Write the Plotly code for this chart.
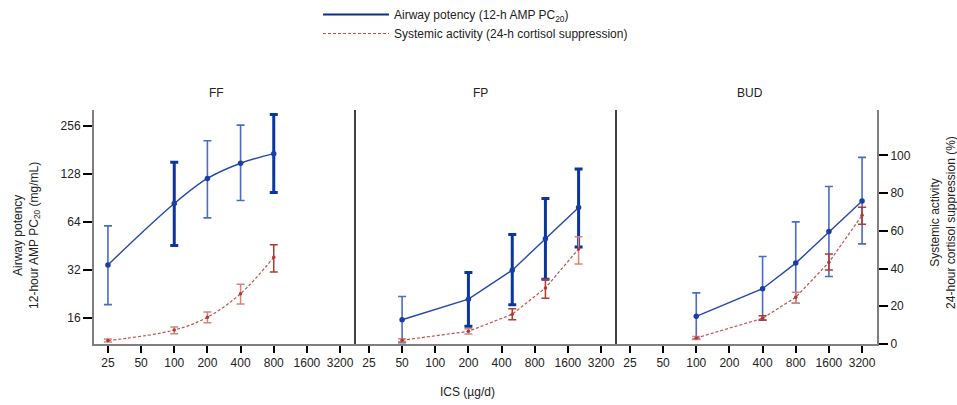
import plotly.graph_objects as go
import numpy as np

# ---------------- data ----------------
dose_ticks = [25, 50, 100, 200, 400, 800, 1600, 3200]
panels = ["FF", "FP", "BUD"]

ff_dose = [25, 100, 200, 400, 800]
ff_pc20 = [34.4, 83.3, 119.6, 149, 171]
ff_pc20_hi = [60.4, 151, 206, 258, 301]
ff_pc20_lo = [19.4, 45.5, 67.8, 87, 97.7]
ff_cort = [1.8, 7.4, 14.2, 26.7, 46.0]
ff_cort_hi = [2.6, 9.0, 17.0, 31.7, 52.7]
ff_cort_lo = [1.0, 5.5, 11.3, 21.2, 38.2]

fp_dose = [50, 200, 500, 1000, 2000]
fp_pc20 = [15.6, 21.0, 31.9, 50.1, 78.7]
fp_pc20_hi = [21.8, 30.8, 53.3, 89.6, 137]
fp_pc20_lo = [11.2, 14.2, 19.4, 28.0, 44.6]
fp_cort = [2.0, 6.7, 15.8, 29.7, 50.4]
fp_cort_hi = [2.8, 8.1, 18.7, 34.3, 56.9]
fp_cort_lo = [1.2, 5.3, 12.9, 24.2, 42.4]

bud_dose = [100, 400, 800, 1600, 3200]
bud_pc20 = [16.4, 24.4, 35.3, 55.6, 86.3]
bud_pc20_hi = [23.0, 38.8, 64.0, 106.6, 162]
bud_pc20_lo = [11.8, 15.5, 19.8, 29.1, 46.6]
bud_cort = [3.2, 13.6, 24.8, 43.3, 68.3]
bud_cort_hi = [4.0, 15.0, 27.4, 47.7, 72.5]
bud_cort_lo = [2.4, 12.7, 21.6, 39.3, 63.5]

# ---------------- style ----------------
FONT = "Liberation Sans, Arial, sans-serif"
TXT = "#222222"
BLUE_LINE = "#2447b0"
BLUE_MK = "#1a3da6"
BLUE_THICK = "#0b35a0"
BLUE_THIN = "#4a6cc6"
BLUE_LEG = "#0a2d8f"
RED_LINE = "#c0504d"
RED_DARK = "#b23a2f"
RED_LIGHT = "#d3857b"
AX_GRAY = "#7f7f7f"

# which doses get the heavy blue error bars / dark red bars (appearance only)
thick_blue = {"FF": [100, 800], "FP": [200, 500, 1000, 2000], "BUD": []}
dark_red = {"FF": [800], "FP": [500, 1000], "BUD": [400, 1600, 3200]}

series = {
    "FF": (ff_dose, ff_pc20, ff_pc20_lo, ff_pc20_hi, ff_cort, ff_cort_lo, ff_cort_hi),
    "FP": (fp_dose, fp_pc20, fp_pc20_lo, fp_pc20_hi, fp_cort, fp_cort_lo, fp_cort_hi),
    "BUD": (bud_dose, bud_pc20, bud_pc20_lo, bud_pc20_hi, bud_cort, bud_cort_lo, bud_cort_hi),
}

fig = go.Figure()


def err_trace(x, y, lo, hi, xa, ya, color, thickness, width):
    x = np.asarray(x, float)
    y = np.asarray(y, float)
    lo = np.asarray(lo, float)
    hi = np.asarray(hi, float)
    return go.Scatter(
        x=x, y=y, xaxis=xa, yaxis=ya, mode="markers",
        marker=dict(size=1, color="rgba(0,0,0,0)"),
        error_y=dict(type="data", symmetric=False, array=hi - y, arrayminus=y - lo,
                     color=color, thickness=thickness, width=width),
        showlegend=False, hoverinfo="skip",
    )


for i, p in enumerate(panels):
    xa = "x" if i == 0 else f"x{i+1}"
    d, pc, pclo, pchi, co, colo, cohi = series[p]
    shape = "spline" if p == "FF" else "linear"

    sel_thick = [k for k, v in enumerate(d) if v in thick_blue[p]]
    sel_thin = [k for k, v in enumerate(d) if v not in thick_blue[p]]
    for sel, col, th in ((sel_thin, BLUE_THIN, 1.6), (sel_thick, BLUE_THICK, 3)):
        if sel:
            fig.add_trace(err_trace([d[k] for k in sel], [pc[k] for k in sel],
                                    [pclo[k] for k in sel], [pchi[k] for k in sel],
                                    xa, "y", col, th, 4))
    sel_dark = [k for k, v in enumerate(d) if v in dark_red[p]]
    sel_light = [k for k, v in enumerate(d) if v not in dark_red[p]]
    for sel, col in ((sel_light, RED_LIGHT), (sel_dark, RED_DARK)):
        if sel:
            fig.add_trace(err_trace([d[k] for k in sel], [co[k] for k in sel],
                                    [colo[k] for k in sel], [cohi[k] for k in sel],
                                    xa, "y2", col, 1.5, 4))

    fig.add_trace(go.Scatter(
        x=d, y=pc, xaxis=xa, yaxis="y", mode="lines+markers",
        line=dict(color=BLUE_LINE, width=1.4, shape=shape),
        marker=dict(color=BLUE_MK, size=5.5),
        showlegend=False,
    ))
    fig.add_trace(go.Scatter(
        x=d, y=co, xaxis=xa, yaxis="y2", mode="lines+markers",
        line=dict(color=RED_LINE, width=1.2, dash="3px,2px", shape=shape),
        marker=dict(color=RED_DARK, size=3.5),
        showlegend=False,
    ))

# legend-only entries (line style only, as in the reference key)
fig.add_trace(go.Scatter(x=[None], y=[None], mode="lines",
                         line=dict(color=BLUE_LEG, width=2.2),
                         name="Airway potency (12-h AMP PC<sub>20</sub>)"))
fig.add_trace(go.Scatter(x=[None], y=[None], mode="lines",
                         line=dict(color=RED_LINE, width=1, dash="3px,2px"),
                         name="Systemic activity (24-h cortisol suppression)"))

xrange = [np.log10(25) - 0.42 * np.log10(2), np.log10(3200) + 0.45 * np.log10(2)]
xcommon = dict(
    type="log", range=xrange, tickvals=dose_ticks, ticktext=[str(v) for v in dose_ticks],
    ticks="outside", ticklen=7, tickwidth=2, tickcolor="black",
    showline=True, linecolor=AX_GRAY, linewidth=1.5,
    showgrid=False, zeroline=False, anchor="y", automargin=False,
    tickfont=dict(family=FONT, size=12, color=TXT),
)

layout = dict(
    width=957, height=405,
    margin=dict(l=94, r=80, t=110, b=61, autoexpand=False),
    paper_bgcolor="white", plot_bgcolor="rgba(0,0,0,0)",
    font=dict(family=FONT, size=12, color=TXT),
    xaxis=dict(domain=[0, 1 / 3], **xcommon),
    xaxis2=dict(domain=[1 / 3, 2 / 3], **xcommon),
    xaxis3=dict(domain=[2 / 3, 1], **xcommon),
    yaxis=dict(
        type="log", range=[np.log10(11.0), np.log10(320.9)],
        tickvals=[16, 32, 64, 128, 256], ticktext=["16", "32", "64", "128", "256"],
        ticks="outside", ticklen=9, tickwidth=2, tickcolor="black",
        showline=True, linecolor=AX_GRAY, linewidth=2,
        showgrid=False, zeroline=False, anchor="x", automargin=False,
        tickfont=dict(family=FONT, size=12, color=TXT),
    ),
    yaxis2=dict(
        overlaying="y", side="right", anchor="x3", range=[0, 124.1],
        tickvals=[0, 20, 40, 60, 80, 100],
        ticks="outside", ticklen=9, tickwidth=2, tickcolor="black",
        showline=True, linecolor=AX_GRAY, linewidth=2,
        showgrid=False, zeroline=False, automargin=False,
        tickfont=dict(family=FONT, size=12, color=TXT),
    ),
    legend=dict(
        x=318 / 957, y=1.0, xref="container", yref="container",
        xanchor="left", yanchor="top",
        font=dict(family=FONT, size=12, color=TXT),
        itemwidth=66, bgcolor="rgba(0,0,0,0)", tracegroupgap=0,
    ),
    showlegend=True,
)
fig.update_layout(**layout)

# panel dividers
for xd in (1 / 3, 2 / 3):
    fig.add_shape(type="line", xref="paper", yref="paper", x0=xd, x1=xd, y0=0, y1=1,
                  line=dict(color="black", width=1.5))

# panel titles
for p, xp in zip(panels, (0.1568, 0.494, 0.838)):
    fig.add_annotation(text=p, x=xp, y=1.0726, xref="paper", yref="paper",
                       xanchor="center", yanchor="middle",
                       showarrow=False, font=dict(family=FONT, size=12, color=TXT))

# axis titles
fig.add_annotation(text="Airway potency<br>12-hour AMP PC<sub>20</sub> (mg/mL)",
                   x=-0.0856, y=0.466, xref="paper", yref="paper", textangle=-90,
                   xanchor="center", yanchor="middle",
                   showarrow=False, font=dict(family=FONT, size=12, color=TXT))
fig.add_annotation(text="Systemic activity<br>24-hour cortisol suppression (%)",
                   x=1.085, y=0.52, xref="paper", yref="paper", textangle=-90,
                   xanchor="center", yanchor="middle",
                   showarrow=False, font=dict(family=FONT, size=12, color=TXT))
fig.add_annotation(text="ICS (µg/d)", x=0.4766, y=-0.205, xref="paper", yref="paper",
                   xanchor="center", yanchor="middle",
                   showarrow=False, font=dict(family=FONT, size=12, color=TXT))

fig.write_html("out.html", config={"displayModeBar": False},
               post_script="document.body.style.margin='0';")
